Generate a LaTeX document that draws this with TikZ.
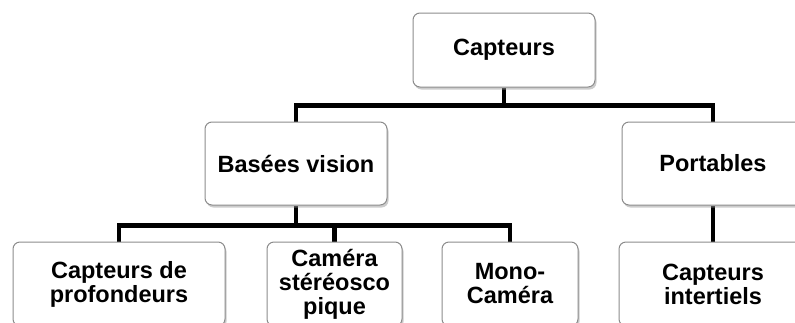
\documentclass[tikz,border=0pt]{standalone}
\usepackage{fontspec}
\setmainfont{Liberation Sans}
\usetikzlibrary{shadows,backgrounds}
\tikzset{
  box/.style={draw=black!45, line width=1pt, fill=white, rounded corners=7pt,
    align=center, inner sep=0pt, font=\fontsize{23.5}{24}\selectfont\bfseries,
    drop shadow={shadow xshift=1.5pt, shadow yshift=-2.5pt, fill=black!40, opacity=0.5}},
  link/.style={line width=4.8pt, draw=black}
}
\begin{document}
\begin{tikzpicture}[x=1pt,y=-1pt]
\useasboundingbox (0,0) rectangle (795,322);
\clip (0,0) rectangle (795,322);
\node[box, minimum width=182pt, minimum height=74pt] (cap) at (504,50) {Capteurs};
\node[box, minimum width=182pt, minimum height=83pt] (bv) at (296,163.5) {Basées vision};
\node[box, minimum width=182pt, minimum height=83pt] (port) at (713,163.5) {Portables};
\node[box, minimum width=212pt, minimum height=84pt] (prof) at (119,284) {Capteurs de\\profondeurs};
\node[box, minimum width=135pt, minimum height=84pt] (stereo) at (334.5,284) {Caméra\\stéréosco\\pique};
\node[box, minimum width=136pt, minimum height=84pt] (mono) at (510,284) {Mono-\\Caméra};
\node[box, minimum width=188pt, minimum height=84pt] (iner) at (713,284) {Capteurs\\intertiels};
\begin{scope}[on background layer]
\draw[link] (cap.south) -- ++(0,18) coordinate (b1);
\draw[link] (bv.north) |- (b1) -| (port.north);
\draw[link] (bv.south) -- ++(0,20) coordinate (b2);
\draw[link] (prof.north) |- (b2) -| (mono.north);
\draw[link] (stereo.north) |- (b2);
\draw[link] (port.south) -- (iner.north);
\end{scope}
\end{tikzpicture}
\end{document}
